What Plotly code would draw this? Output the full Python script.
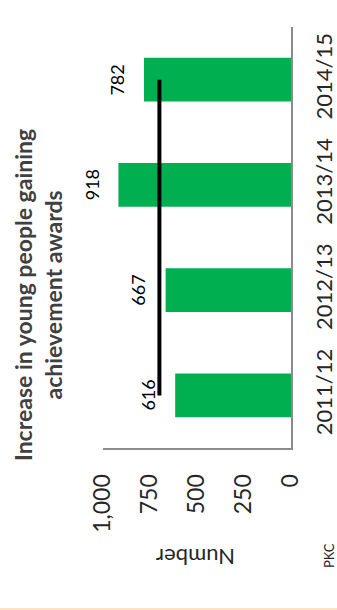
import plotly.graph_objects as go

# Award counts per academic year
years = ["2011/12", "2012/13", "2013/14", "2014/15"]
awards = [616, 667, 918, 782]
target = [700, 700, 700, 700]

value_ticks = [0, 250, 500, 750, 1000]

FONT = "Lato"
W, H = 337, 610
ML, MR, MT, MB = 103, 46, 27, 162
PW, PH = W - ML - MR, H - MT - MB


def px_x(px):
    return (px - ML) / PW


def px_y(py):
    return (H - MB - py) / PH


fig = go.Figure()

fig.add_trace(go.Bar(
    x=awards, y=years, orientation="h",
    marker=dict(color="#00B050", line=dict(width=0)),
    hoverinfo="skip",
))

fig.add_trace(go.Scatter(
    x=target, y=years, mode="lines",
    line=dict(color="black", width=4),
    hoverinfo="skip",
))

# value labels beside the bar ends, turned to read upward
for yr, v in zip(years, awards):
    fig.add_annotation(
        x=v, y=yr, xref="x", yref="y",
        text=f"{v}", showarrow=False, textangle=-90,
        xanchor="center", yanchor="middle", xshift=-27,
        font=dict(family=FONT, size=18, color="black"),
    )

fig.add_annotation(
    xref="paper", yref="paper", x=px_x(38), y=px_y(295),
    text="<b>Increase in young people gaining<br>achievement awards</b>",
    showarrow=False, textangle=-90, align="center",
    xanchor="center", yanchor="middle",
    font=dict(family=FONT, size=23, color="#404040"),
)

fig.add_annotation(
    xref="paper", yref="paper", x=px_x(196), y=px_y(558),
    text="Number", showarrow=False, textangle=180,
    xanchor="center", yanchor="middle",
    font=dict(family=FONT, size=22, color="#262626"),
)

fig.add_annotation(
    xref="paper", yref="paper", x=px_x(329), y=px_y(556),
    text="PKC", showarrow=False, textangle=-90,
    xanchor="center", yanchor="middle",
    font=dict(family=FONT, size=13, color="#262626"),
)

fig.add_shape(
    type="rect", xref="paper", yref="paper",
    x0=px_x(0), x1=px_x(W), y0=px_y(610), y1=px_y(608),
    fillcolor="#FDE3C4", line=dict(width=0), layer="below",
)

fig.update_layout(
    width=W, height=H,
    margin=dict(l=ML, r=MR, t=MT, b=MB, pad=0, autoexpand=False),
    paper_bgcolor="white", plot_bgcolor="white",
    showlegend=False, bargap=0.583,
    font=dict(family=FONT, color="#262626"),
    xaxis=dict(
        range=[1000, 0], tickvals=value_ticks, tickformat=",",
        tickangle=-90, showgrid=False, zeroline=False,
        showline=True, linecolor="#8C8C8C", linewidth=2,
        ticks="", ticklabelstandoff=15, automargin=False,
        tickfont=dict(family=FONT, size=23, color="#262626"),
    ),
    yaxis=dict(
        type="category", categoryorder="array", categoryarray=years,
        range=[-0.5, 3.5], side="right", tickangle=-90,
        showgrid=False, zeroline=False,
        showline=True, linecolor="#8C8C8C", linewidth=2,
        ticks="", ticklabelstandoff=13, automargin=False,
        tickfont=dict(family=FONT, size=22, color="#262626"),
    ),
)

fig.write_html("out.html")
